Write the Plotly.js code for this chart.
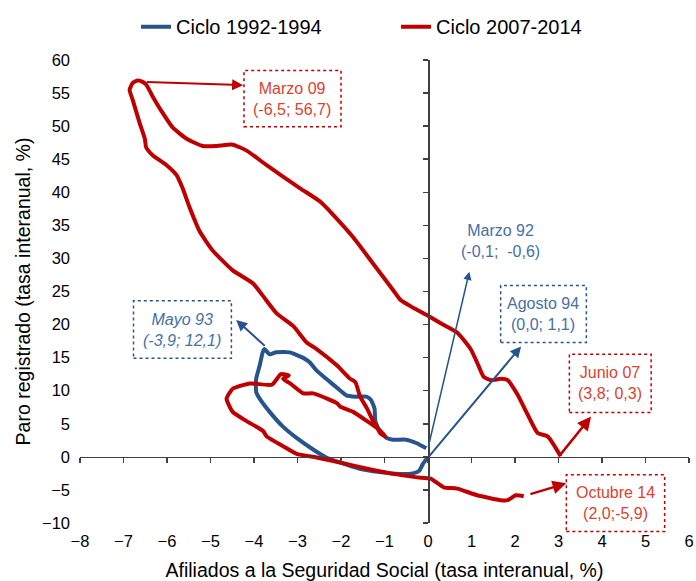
<!DOCTYPE html>
<html>
<head>
<meta charset="utf-8">
<script src="https://cdn.plot.ly/plotly-3.0.1.min.js"></script>
<style>html,body{margin:0;padding:0;background:#fff;}#chart{width:696px;height:581px;}</style>
</head>
<body>
<div id="chart"></div>
<script>
// Ciclo 2007-2014 (x: afiliados %, y: paro %)
const redX = [3.05,2.75,2.52,2.29,2.06,1.83,1.67,1.44,1.28,1.16,0.98,0.67,0.29,-0.02,-0.33,-0.63,-0.80,-1.26,-1.72,-2.18,-2.48,-2.94,-3.71,-4.17,-4.49,-4.86,-5.18,-5.55,-5.87,-6.10,-6.33,-6.48,-6.56,-6.68,-6.79,-6.86,-6.79,-6.63,-6.51,-6.48,-6.33,-6.01,-5.78,-5.64,-5.48,-5.25,-4.95,-4.49,-4.02,-3.79,-3.48,-3.10,-2.79,-2.56,-2.09,-1.79,-1.67,-1.56,-1.40,-1.26,-1.17,-1.10,-0.98,-1.14,-1.40,-1.72,-2.02,-2.09,-2.32,-2.64,-2.87,-3.17,-3.33,-3.20,-3.38,-3.59,-4.09,-4.49,-4.63,-4.49,-4.17,-3.79,-3.71,-3.33,-3.02,-2.56,-2.02,-1.40,-0.86,-0.25,0.06,0.36,0.67,1.13,1.67,1.83,2.02,2.20];
const redY = [0.1,3.1,3.6,6.4,9.4,11.6,11.8,11.6,12.1,13.8,16.3,18.8,20.2,21.4,22.5,23.7,25.2,29.2,33.2,36.6,38.6,40.6,44.1,46.3,47.2,47.0,47.0,48.1,49.8,52.0,54.5,56.3,56.7,56.9,56.5,55.5,54.0,50.5,48.1,46.8,45.6,44.1,42.6,40.6,37.7,34.1,31.2,28.2,26.2,24.3,21.7,19.8,17.3,16.3,13.8,11.8,11.3,9.1,7.3,5.4,4.4,3.6,3.1,4.2,5.4,6.8,7.6,8.1,8.8,9.6,9.6,11.1,11.8,12.3,12.5,10.9,11.1,10.3,8.8,6.8,5.4,3.9,3.1,1.6,0.45,-0.1,-0.85,-1.8,-2.5,-3.1,-3.3,-4.6,-4.8,-5.8,-6.55,-6.55,-5.8,-5.95];
// Ciclo 1992-1994
const blueX = [0.0,-0.12,-0.20,-0.35,-0.66,-1.11,-1.57,-2.03,-2.34,-2.65,-3.03,-3.34,-3.64,-3.87,-3.95,-3.95,-3.87,-3.80,-3.76,-3.64,-3.49,-3.18,-2.88,-2.72,-2.57,-2.34,-2.03,-1.88,-1.65,-1.42,-1.31,-1.23,-1.21,-1.11,-0.96,-0.81,-0.50,-0.27,-0.04];
const blueY = [0.0,-1.1,-2.1,-2.5,-2.6,-2.3,-1.8,-0.85,-0.1,1.15,2.9,4.6,6.8,8.8,9.8,11.8,13.8,15.8,16.3,15.5,15.8,15.8,15.0,14.3,13.1,11.8,10.1,9.3,9.1,9.1,8.6,7.3,5.4,3.9,2.9,2.6,2.6,2.1,1.3];

const seriesNames = ['Ciclo 1992-1994','Ciclo 2007-2014'];
const xTitle = 'Afiliados a la Seguridad Social (tasa interanual, %)';
const yTitle = 'Paro registrado (tasa interanual, %)';

// Callouts: label, point, arrow tip, box
const callouts = [
  {text:'Marzo 09<br>(-6,5; 56,7)', color:'red', tail:[-6.5,56.7], tip:[-4.25,56.2], box:[-4.23,-2.0,49.9,58.4], w:2, italic:false},
  {text:'Mayo 93<br>(-3,9; 12,1)', color:'blue', tail:[-3.72,16.6], tip:[-4.41,20.7], box:[-6.77,-4.52,14.9,23.6], w:2, italic:true},
  {text:'Marzo 92<br>(-0,1;  -0,6)', color:'blue', tail:[0.0,1.3], tip:[0.95,28.0], box:null, txt:[1.66,32.6], w:1.5, italic:false},
  {text:'Agosto 94<br>(0,0; 1,1)', color:'blue', tail:[0.0,-0.1], tip:[2.14,16.7], box:[1.67,3.64,17.3,25.9], w:2, italic:false},
  {text:'Junio 07<br>(3,8; 0,3)', color:'red', tail:[3.02,0.15], tip:[3.75,6.1], box:[3.25,5.13,6.7,15.5], w:2.5, italic:false},
  {text:'Octubre 14<br>(2,0;-5,9)', color:'red', tail:[2.32,-5.7], tip:[3.18,-4.0], box:[3.18,5.44,-11.3,-2.7], w:2.5, italic:false}
];

const RED = '#c00000', BLUE = '#27548c';
const RED_TXT = '#e0412c', BLUE_TXT = '#4571a3';
const FONT = 'Liberation Sans, Arial, Helvetica, sans-serif';
const XR = [-8,6], YR = [-10,60];
const px = v => (v - XR[0])/(XR[1]-XR[0]);
const py = v => (v - YR[0])/(YR[1]-YR[0]);

const traces = [
  {x:blueX, y:blueY, name:seriesNames[0], mode:'lines', line:{color:BLUE, width:4, shape:'spline', smoothing:0.5}},
  {x:redX, y:redY, name:seriesNames[1], mode:'lines', line:{color:RED, width:4, shape:'spline', smoothing:0.5}},
  {x:[null], y:[null], xaxis:'x2', yaxis:'y2', showlegend:false, hoverinfo:'skip', mode:'lines'}
];
const annotations = [], shapes = [];
callouts.forEach(c => {
  const lc = c.color==='red' ? RED : BLUE;
  const tc = c.color==='red' ? RED_TXT : BLUE_TXT;
  annotations.push({x:c.tip[0], y:c.tip[1], ax:c.tail[0], ay:c.tail[1], xref:'x', yref:'y', axref:'x', ayref:'y',
    text:'', showarrow:true, arrowhead:2, arrowsize:1.1, arrowwidth:c.w, arrowcolor:lc, standoff:0, startstandoff:0});
  let cx, cy;
  if (c.box) {
    shapes.push({type:'rect', xref:'paper', yref:'paper', x0:px(c.box[0]), x1:px(c.box[1]), y0:py(c.box[2]), y1:py(c.box[3]),
      line:{color:lc, width:1.5, dash:'dot'}, fillcolor:'rgba(0,0,0,0)'});
    cx = (c.box[0]+c.box[1])/2; cy = (c.box[2]+c.box[3])/2;
  } else { cx = c.txt[0]; cy = c.txt[1]; }
  annotations.push({x:px(cx), y:py(cy), xref:'paper', yref:'paper', xanchor:'center', yanchor:'middle', showarrow:false,
    text: c.italic ? '<i>'+c.text+'</i>' : c.text, font:{family:FONT, size:16, color:tc}, align:'center'});
});

const layout = {
  width:696, height:581,
  margin:{l:80, r:7, t:53, b:58},
  paper_bgcolor:'#fff', plot_bgcolor:'#fff',
  font:{family:FONT, color:'#000'},
  showlegend:true,
  legend:{orientation:'h', x:0.092, xanchor:'left', y:1.072, yanchor:'middle', font:{size:20, family:FONT}, itemwidth:30, entrywidth:215, entrywidthmode:'pixels', traceorder:'normal', bgcolor:'rgba(0,0,0,0)'},
  xaxis:{range:XR, dtick:1, tick0:0, showgrid:false, zeroline:false, showline:false, ticks:'', ticklabelstandoff:6,
    tickfont:{size:16.5, family:FONT}, title:{text:xTitle, font:{size:19.5, family:FONT}, standoff:18}, fixedrange:true},
  yaxis:{range:YR, dtick:5, tick0:0, showgrid:false, zeroline:false, showline:false, ticks:'', ticklabelstandoff:9,
    tickfont:{size:16.5, family:FONT}, title:{text:yTitle, font:{size:19.5, family:FONT}, standoff:6}, fixedrange:true},
  xaxis2:{overlaying:'x', anchor:'free', position:py(0), range:XR, dtick:1, tick0:0, showgrid:false, zeroline:false,
    showline:true, linecolor:'#404040', linewidth:1.5, ticks:'outside', ticklen:5, tickwidth:1.5, tickcolor:'#404040', showticklabels:false, side:'bottom'},
  yaxis2:{overlaying:'y', anchor:'free', position:px(0), range:YR, dtick:5, tick0:0, showgrid:false, zeroline:false,
    showline:true, linecolor:'#404040', linewidth:1.5, ticks:'outside', ticklen:5, tickwidth:1.5, tickcolor:'#404040', showticklabels:false, side:'left'},
  annotations:annotations, shapes:shapes
};
Plotly.newPlot('chart', traces, layout, {staticPlot:true, displayModeBar:false});
</script>
</body>
</html>
